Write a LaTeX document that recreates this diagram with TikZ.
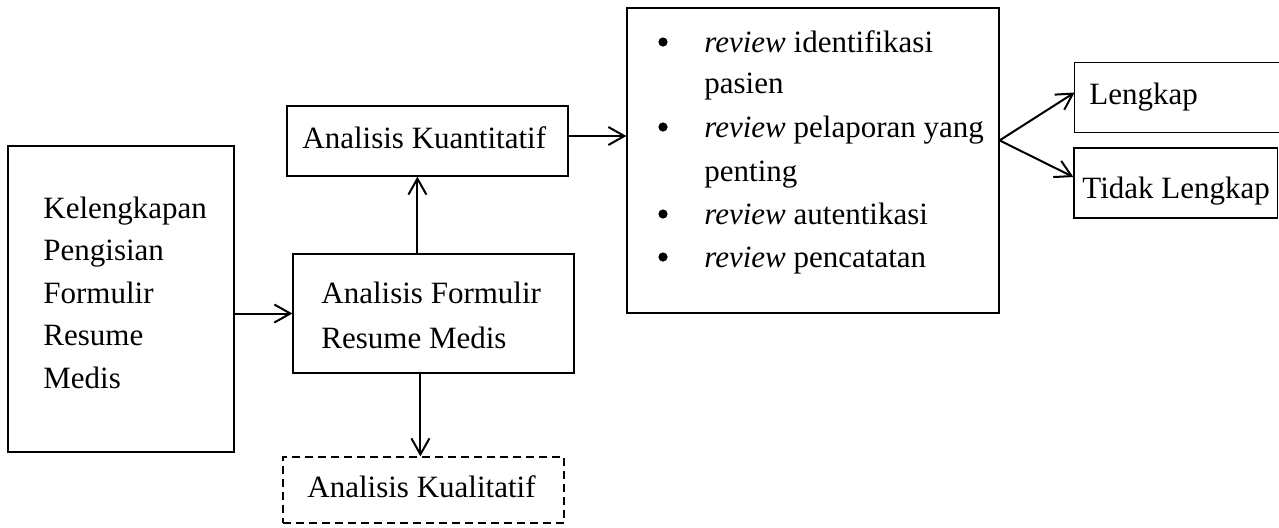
\documentclass[tikz,border=0pt]{standalone}
\usepackage{fontspec}
\setmainfont{Liberation Serif}
\usetikzlibrary{arrows.meta,calc}
\tikzset{
  boxshape/.style={draw, line width=0.6pt, rectangle, inner sep=0pt},
  txt/.style={anchor=base west, inner sep=0pt},
  bul/.style={circle, fill, inner sep=0pt, minimum size=4.6pt},
  arr/.style={line width=1pt, -{Straight Barb[length=8pt,width=9pt,line width=1pt]}}
}
\begin{document}
\begin{tikzpicture}[x=0.5pt,y=-0.5pt,font=\fontsize{15.5}{18}\selectfont]
\useasboundingbox (0,0) rectangle (1279,527);
% boxes
\node[boxshape, minimum width=113pt, minimum height=153pt] (lb) at (121,299) {};
\node[boxshape, minimum width=140.5pt, minimum height=59.5pt] (afrm) at (433.5,313.5) {};
\node[boxshape, minimum width=140.5pt, minimum height=35pt] (ak) at (427.5,141) {};
\node[boxshape, dash pattern=on 4pt off 2.5pt, minimum width=140.5pt, minimum height=33pt] (kual) at (423.5,490) {};
\node[boxshape, minimum width=186pt, minimum height=152.5pt] (big) at (813,160.5) {};
\node[rectangle, inner sep=0pt, minimum width=102pt, minimum height=34.5pt] (leng) at (1177,97.5) {};
\draw[line width=0.6pt] (leng.north east) -- (leng.north west) -- (leng.south west) -- (leng.south east);
\node[boxshape, minimum width=101.75pt, minimum height=35pt] (tidak) at (1175.75,183) {};
% texts
\node[txt] (lb1) at (43,218) {Kelengkapan};
\node[txt] (lb2) at (43,260.5) {Pengisian};
\node[txt] (lb3) at (43,303) {Formulir};
\node[txt] (lb4) at (43,345.5) {Resume};
\node[txt] (lb5) at (43,388) {Medis};
\node[txt] (af1) at (321,303) {Analisis Formulir};
\node[txt] (af2) at (321,348) {Resume Medis};
\node[txt] (akt) at (302,148) {Analisis Kuantitatif};
\node[txt] (kut) at (307,497) {Analisis Kualitatif};
\node[bul] (b1) at (663,42) {};
\node[bul] (b2) at (663,127) {};
\node[bul] (b3) at (663,214) {};
\node[bul] (b4) at (663,257) {};
\node[txt] (r1) at (704,52) {\textit{review} identifikasi};
\node[txt] (r1b) at (704,93) {pasien};
\node[txt] (r2) at (704,137) {\textit{review} pelaporan yang};
\node[txt] (r2b) at (704,181) {penting};
\node[txt] (r3) at (704,224) {\textit{review} autentikasi};
\node[txt] (r4) at (704,267) {\textit{review} pencatatan};
\node[txt] (lt) at (1089,104) {Lengkap};
\node[txt] (tt) at (1082,198) {Tidak Lengkap};
% connectors
\draw[arr] (afrm.west -| lb.east) -- (afrm.west);
\coordinate (upx) at ($(afrm.north west)+(125,0)$);
\draw[arr] (upx) -- (upx |- ak.south);
\coordinate (dnx) at ($(afrm.south west)+(128,0)$);
\draw[arr] (dnx) -- (dnx |- kual.north);
\coordinate (akout) at ($(ak.east)+(0,-5)$);
\draw[arr] (akout) -- (akout -| big.west);
\coordinate (fork) at ($(big.north east)+(0,133)$);
\draw[arr] (fork) -- ($(leng.west)+(0,-5)$);
\draw[arr] (fork) -- ($(tidak.west)+(0,-6)$);
\end{tikzpicture}
\end{document}
